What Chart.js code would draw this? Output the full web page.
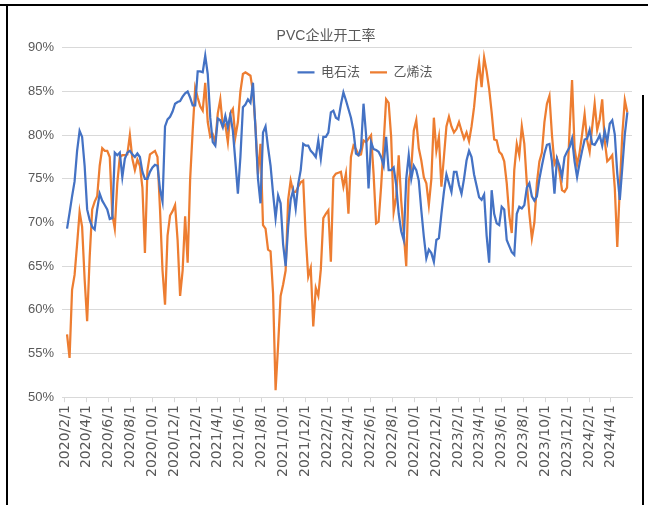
<!DOCTYPE html>
<html>
<head>
<meta charset="utf-8">
<script src="https://cdn.jsdelivr.net/npm/chart.js@4.4.1/dist/chart.umd.min.js"></script>
<style>
  html, body { margin: 0; padding: 0; background: #fff; }
  #wrap { position: relative; width: 648px; height: 505px; overflow: hidden; }
  .frame { position: absolute; background: #000; }
</style>
</head>
<body>
<div id="wrap">
  <canvas id="pvcChart" width="648" height="505"></canvas>
  <div class="frame" style="left:0;top:4px;width:648px;height:2px"></div>
  <div class="frame" style="left:6px;top:4px;width:2px;height:501px"></div>
  <div class="frame" style="left:642px;top:95px;width:2px;height:410px"></div>
</div>
<script>
// 周度数据，起始日期
const startDate = '2020/2/7';

// x轴刻度
const tickLabels = ['2020/2/1', '2020/4/1', '2020/6/1', '2020/8/1', '2020/10/1', '2020/12/1',
    '2021/2/1', '2021/4/1', '2021/6/1', '2021/8/1', '2021/10/1', '2021/12/1',
    '2022/2/1', '2022/4/1', '2022/6/1', '2022/8/1', '2022/10/1', '2022/12/1',
    '2023/2/1', '2023/4/1', '2023/6/1', '2023/8/1', '2023/10/1', '2023/12/1',
    '2024/2/1', '2024/4/1'];

// 电石法开工率 (%)
const carbide = [
    69.3, 71.1, 73.0, 74.7, 78.2, 80.5, 79.8, 76.5, 71.5, 70.3,
    69.5, 69.2, 71.5, 73.3, 72.5, 72.0, 71.5, 70.4, 70.5, 78.0,
    77.7, 78.0, 75.2, 77.3, 78.0, 78.2, 77.8, 77.5, 77.9, 77.5,
    75.8, 75.0, 75.0, 75.8, 76.3, 76.6, 76.5, 73.8, 72.4, 81.0,
    81.8, 82.1, 82.7, 83.6, 83.8, 83.9, 84.4, 84.8, 85.0, 84.3,
    83.4, 83.4, 87.3, 87.3, 87.2, 89.1, 87.0, 82.0, 79.2, 78.8,
    81.9, 81.7, 80.9, 82.2, 80.9, 82.3, 80.5, 77.0, 73.3, 77.5,
    83.2, 83.5, 84.1, 83.7, 86.0, 80.7, 75.0, 72.2, 80.3, 81.0,
    78.6, 76.5, 73.3, 70.5, 73.1, 72.2, 67.5, 65.0, 69.5, 72.6,
    73.7, 71.6, 74.4, 76.0, 79.0, 78.8, 78.8, 78.2, 77.9, 77.5,
    79.4, 77.3, 79.8, 79.8, 80.3, 82.6, 82.8, 82.0, 81.8, 83.5,
    84.9, 84.0, 83.0, 82.0, 80.5, 77.9, 77.7, 78.5, 83.6, 80.1,
    73.9, 79.2, 78.4, 78.3, 78.1, 77.5, 76.5, 79.8, 76.0, 76.0,
    76.3, 74.3, 71.0, 69.0, 68.0, 75.0, 77.7, 75.0, 76.5, 76.0,
    74.8, 71.4, 68.4, 65.9, 66.9, 66.5, 65.5, 68.0, 68.2, 71.0,
    73.5, 75.5, 74.5, 73.5, 75.8, 75.8, 74.3, 73.3, 75.0, 77.1,
    78.2, 77.5, 75.5, 74.2, 72.9, 72.6, 73.2, 68.5, 65.4, 73.7,
    71.0, 69.9, 69.7, 71.8, 71.5, 68.0, 67.3, 66.6, 66.3, 71.0,
    71.8, 71.6, 72.0, 74.0, 74.5, 73.0, 72.5, 73.0, 75.0, 76.5,
    77.9, 78.9, 79.0, 77.0, 73.3, 77.3, 76.5, 75.2, 77.5, 78.1,
    78.6, 79.6, 77.0, 75.2, 76.8, 78.2, 79.5, 79.6, 80.6, 79.0,
    78.9, 79.4, 80.0, 78.8, 80.5, 79.2, 81.3, 81.7, 80.1, 75.6,
    72.6, 76.3, 80.1, 82.6
];

// 乙烯法开工率 (%)
const ethylene = [
    57.2, 54.5, 62.3, 64.0, 67.5, 71.2, 69.5, 63.5, 58.7, 66.0,
    71.5, 72.4, 73.0, 76.5, 78.5, 78.2, 78.2, 77.5, 71.0, 69.3,
    74.5, 77.5, 77.7, 77.7, 77.8, 80.0, 77.3, 76.0, 77.2, 76.5,
    74.0, 66.5, 76.0, 77.8, 78.0, 78.2, 77.5, 71.5, 64.5, 60.6,
    68.5, 70.8, 71.3, 72.0, 68.0, 61.6, 64.5, 70.7, 65.4, 75.0,
    80.5, 85.4, 84.3, 83.3, 82.8, 86.0, 81.5, 79.8, 80.1, 79.2,
    82.5, 84.1, 81.0, 81.2, 79.2, 82.5, 83.0, 79.8, 81.5, 85.0,
    87.0, 87.2, 87.0, 86.8, 85.0, 81.0, 75.5, 79.0, 69.7, 69.3,
    66.9, 66.7, 61.9, 50.8, 55.9, 61.6, 62.9, 64.5, 72.6, 74.8,
    73.5, 73.5, 74.1, 74.6, 74.8, 68.4, 63.8, 64.8, 58.1, 62.5,
    61.6, 64.6, 70.5, 71.0, 71.4, 65.5, 75.2, 75.6, 75.7, 75.8,
    74.1, 75.6, 71.0, 77.5, 78.8, 78.4, 77.7, 77.8, 79.4, 79.2,
    79.6, 80.0, 75.6, 69.9, 70.1, 74.1, 79.0, 84.1, 83.7, 79.8,
    71.2, 72.9, 77.7, 72.5, 68.8, 65.0, 74.8, 76.2, 80.5, 81.7,
    78.5, 77.1, 75.2, 74.5, 72.0, 75.0, 82.0, 78.2, 79.8, 74.1,
    77.5, 81.0, 82.1, 81.0, 80.3, 80.7, 81.5, 80.5, 79.6, 80.3,
    79.3, 81.0, 83.2, 86.2, 88.3, 85.5, 88.9, 87.3, 85.3, 82.6,
    79.5, 79.4, 78.1, 77.8, 77.0, 74.5, 70.8, 68.8, 76.0, 79.0,
    77.7, 81.0, 79.0, 74.5, 71.0, 68.2, 70.0, 74.5, 77.0, 78.0,
    81.5, 83.6, 84.5, 80.0, 76.7, 77.3, 75.8, 73.7, 73.5, 74.0,
    80.5, 86.3, 78.5, 76.6, 78.0, 80.1, 82.4, 79.4, 78.1, 80.9,
    83.6, 80.6, 81.8, 84.1, 79.4, 77.0, 77.3, 77.7, 74.0, 67.2,
    74.0, 80.1, 84.0, 82.6
];

// 日期 -> 距 2020/2/1 的天数
function dayOf(s) {
    const p = s.split('/').map(Number);
    return (Date.UTC(p[0], p[1] - 1, p[2]) - Date.UTC(2020, 1, 1)) / 86400000;
}

const firstDay = dayOf(startDate);
const tickDays = tickLabels.map(dayOf);
const toPoints = arr => arr.map((v, i) => ({ x: firstDay + 7 * i, y: v }));

const textColor = '#595959';
const gridColor = '#D9D9D9';
const narrowFont = "'Liberation Sans Narrow', 'Liberation Sans', 'Noto Sans CJK SC', sans-serif";

// 图例放进绘图区内 (Excel 里图例压在图上且偏右)
const legendShift = {
    id: 'legendShift',
    afterLayout(chart) {
        const lg = chart.legend;
        const area = chart.chartArea;
        lg.left = area.left + 18;
        lg.right = area.right + 18;
        lg.top = area.top + 8;
        lg.bottom = lg.top + 36;   // 否则被裁剪
        lg.width = lg.right - lg.left;
        lg.height = 36;
    }
};

const ctx = document.getElementById('pvcChart').getContext('2d');
const pvcChart = new Chart(ctx, {
    type: 'line',
    data: {
        datasets: [{
            label: '电石法',
            data: toPoints(carbide),
            borderColor: '#4472C4',
            backgroundColor: '#4472C4',
            borderWidth: 2.25,
            pointRadius: 0,
            tension: 0
        }, {
            label: '乙烯法',
            data: toPoints(ethylene),
            borderColor: '#ED7D31',
            backgroundColor: '#ED7D31',
            borderWidth: 2.25,
            pointRadius: 0,
            tension: 0
        }]
    },
    options: {
        responsive: false,
        animation: false,
        layout: { padding: { left: 20, right: 16, top: 0, bottom: 25 } },
        plugins: {
            title: {
                display: true,
                text: 'PVC企业开工率',
                color: textColor,
                font: { size: 14, weight: 'normal', family: narrowFont },
                padding: { top: 28, bottom: 2 }
            },
            legend: {
                position: 'top',
                align: 'center',
                maxHeight: 1,
                labels: {
                    usePointStyle: true,
                    pointStyle: 'line',
                    pointStyleWidth: 17,
                    color: textColor,
                    font: { size: 13, family: narrowFont },
                    padding: 10
                }
            },
            tooltip: { enabled: false }
        },
        scales: {
            x: {
                type: 'linear',
                min: -8,
                max: 1580,
                afterBuildTicks: scale => {
                    scale.ticks = tickDays.map(d => ({ value: d }));
                },
                ticks: {
                    autoSkip: false,
                    minRotation: 90,
                    maxRotation: 90,
                    color: textColor,
                    font: { size: 14, family: "'DejaVu Sans', sans-serif" },
                    padding: 3,
                    callback: (v, i) => tickLabels[i]
                },
                grid: { drawOnChartArea: false, drawTicks: true, tickLength: 5, color: gridColor },
                border: { display: true, color: gridColor }
            },
            y: {
                min: 50,
                max: 90,
                ticks: {
                    stepSize: 5,
                    color: textColor,
                    font: { size: 13, family: narrowFont },
                    padding: 8,
                    callback: v => v + '%'
                },
                grid: { color: gridColor, drawTicks: false },
                border: { display: false }
            }
        }
    },
    plugins: [legendShift]
});
</script>
</body>
</html>
